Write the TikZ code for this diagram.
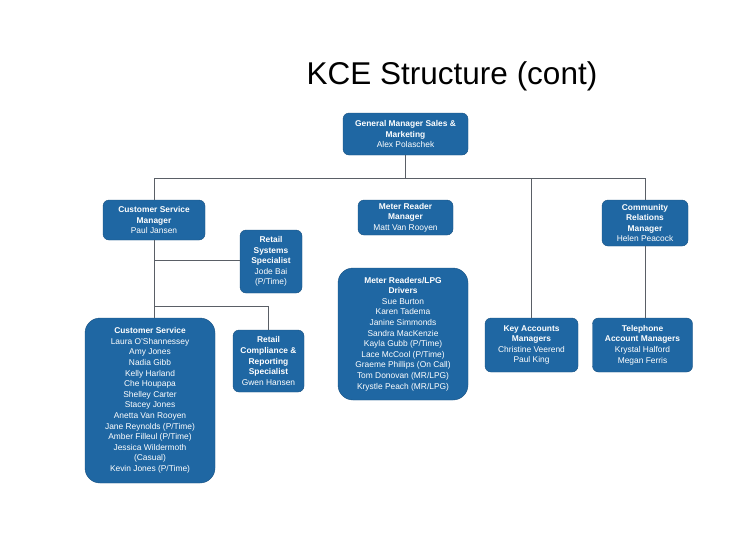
\documentclass[tikz,border=0pt]{standalone}
\usepackage{fontspec}
\setmainfont{Liberation Sans}
\definecolor{boxblue}{HTML}{1F67A3}
\definecolor{linegray}{HTML}{5A5F66}
\tikzset{
  orgbox/.style={draw=boxblue!80!black, line width=0.4pt, fill=boxblue, text=white, rounded corners=6pt,
    align=center, inner sep=1pt, font=\fontsize{8.4}{10.6}\selectfont},
  bigbox/.style={orgbox, rounded corners=15pt},
  conn/.style={draw=linegray, line width=0.6pt},
}
\begin{document}
\begin{tikzpicture}[x=1pt,y=-1pt]
\useasboundingbox[fill=white] (0,0) rectangle (746,536);
\node (title) at (452,76) {\fontsize{31.5}{36}\selectfont KCE Structure (cont)};

\node[orgbox, minimum width=125pt, minimum height=42pt] (gm) at (405.5,134)
  {\textbf{General Manager Sales \&}\\\textbf{Marketing}\\Alex Polaschek};
\node[orgbox, minimum width=102pt, minimum height=40pt] (csm) at (154,220)
  {\textbf{Customer Service}\\\textbf{Manager}\\Paul Jansen};
\node[orgbox, minimum width=95pt, minimum height=35pt] (mrm) at (405.5,217.5)
  {\textbf{Meter Reader}\\\textbf{Manager}\\Matt Van Rooyen};
\node[orgbox, minimum width=86pt, minimum height=46pt] (crm) at (645,223)
  {\textbf{Community}\\\textbf{Relations}\\\textbf{Manager}\\Helen Peacock};
\node[orgbox, minimum width=62pt, minimum height=63pt] (rss) at (271,261.5)
  {\textbf{Retail}\\\textbf{Systems}\\\textbf{Specialist}\\Jode Bai\\(P/Time)};
\node[bigbox, minimum width=130pt, minimum height=165pt] (cs) at (150,400.5)
  {\textbf{Customer Service}\\Laura O'Shannessey\\Amy Jones\\Nadia Gibb\\Kelly Harland\\Che Houpapa\\Shelley Carter\\Stacey Jones\\Anetta Van Rooyen\\Jane Reynolds (P/Time)\\Amber Filleul (P/Time)\\Jessica Wildermoth\\(Casual)\\Kevin Jones (P/Time)};
\node[orgbox, minimum width=71pt, minimum height=62pt] (rcr) at (268.5,361)
  {\textbf{Retail}\\\textbf{Compliance \&}\\\textbf{Reporting}\\\textbf{Specialist}\\Gwen Hansen};
\node[bigbox, minimum width=130pt, minimum height=132pt] (mr) at (403,334)
  {\textbf{Meter Readers/LPG}\\\textbf{Drivers}\\Sue Burton\\Karen Tadema\\Janine Simmonds\\Sandra MacKenzie\\Kayla Gubb (P/Time)\\Lace McCool (P/Time)\\Graeme Phillips (On Call)\\Tom Donovan (MR/LPG)\\Krystle Peach (MR/LPG)};
\node[orgbox, minimum width=93pt, minimum height=54pt] (ka) at (531.5,345)
  {\textbf{Key Accounts}\\\textbf{Managers}\\Christine Veerend\\Paul King};
\node[orgbox, minimum width=100pt, minimum height=54pt] (tam) at (642.5,345)
  {\textbf{Telephone}\\\textbf{Account Managers}\\Krystal Halford\\Megan Ferris};

\coordinate (busL) at (154,178);
\coordinate (busR) at (645,178);
\draw[conn] (gm.south) -- (gm.south |- busL);
\draw[conn] (busL) -- (busR);
\draw[conn] (busL) -- (csm.north);
\draw[conn] (busR) -- (crm.north);
\draw[conn] (ka.north |- busL) -- (ka.north);
\draw[conn] (crm.south) -- (crm.south |- tam.north);
\draw[conn] (csm.south) -- (csm.south |- cs.north);
\coordinate (j1) at (154,260);
\draw[conn] (j1) -- (j1 -| rss.west);
\coordinate (j2) at (154,306);
\draw[conn] (j2) -- (j2 -| rcr.north) -- (rcr.north);
\end{tikzpicture}
\end{document}
